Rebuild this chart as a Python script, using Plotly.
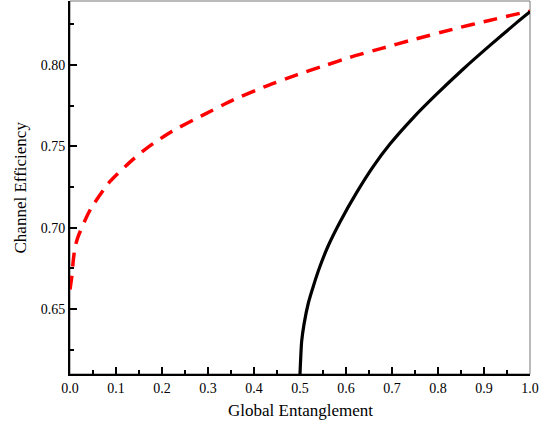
import plotly.graph_objects as go

# Black solid curve
ent_black = [0.500, 0.5036, 0.5087, 0.518, 0.529, 0.5435, 0.5616, 0.587, 0.623, 0.659, 0.696, 0.746, 0.797, 0.855, 0.913, 0.971, 1.000]
eff_black = [0.610, 0.6300, 0.6405, 0.6535, 0.6640, 0.6762, 0.6890, 0.7035, 0.7215, 0.7375, 0.7515, 0.7675, 0.7820, 0.7975, 0.8120, 0.8260, 0.8327]

# Red dashed curve
ent_red = [0.000, 0.004, 0.0072, 0.011, 0.018, 0.036, 0.047, 0.087, 0.1377, 0.170, 0.221, 0.290, 0.355, 0.424, 0.493,
           0.558, 0.6087, 0.6775, 0.743, 0.840, 0.909, 0.978, 1.000]
eff_red = [0.6620, 0.6700, 0.6800, 0.6880, 0.6947, 0.7065, 0.7125, 0.7284, 0.7421, 0.7495, 0.7591, 0.7693, 0.7785, 0.7867, 0.7939,
           0.8000, 0.8047, 0.8102, 0.8153, 0.8225, 0.8272, 0.8317, 0.8330]

x_ticks = [0.0, 0.1, 0.2, 0.3, 0.4, 0.5, 0.6, 0.7, 0.8, 0.9, 1.0]
x_tick_labels = ["0.0", "0.1", "0.2", "0.3", "0.4", "0.5", "0.6", "0.7", "0.8", "0.9", "1.0"]
y_ticks = [0.65, 0.70, 0.75, 0.80]
y_tick_labels = ["0.65", "0.70", "0.75", "0.80"]

FONT = "Liberation Serif"

fig = go.Figure()
fig.add_trace(go.Scatter(x=ent_red, y=eff_red, mode="lines", line_shape="spline",
                         line=dict(color="#ff0000", width=3.5, dash="14px,9px", smoothing=0.6),
                         showlegend=False))
fig.add_trace(go.Scatter(x=ent_black, y=eff_black, mode="lines", line_shape="spline",
                         line=dict(color="#000000", width=3.2, smoothing=0.6),
                         showlegend=False))

fig.update_layout(
    width=551, height=430,
    margin=dict(l=70, r=21, t=1, b=56),
    paper_bgcolor="white", plot_bgcolor="white",
    font=dict(family=FONT, size=14, color="black"),
    shapes=[dict(type="rect", xref="paper", yref="paper", x0=0, x1=1, y0=0, y1=1,
                 line=dict(color="#777777", width=1), layer="below")],
    annotations=[
        dict(text="Global Entanglement", xref="paper", yref="paper", x=0.5, y=0,
             xanchor="center", yanchor="middle", yshift=-36, showarrow=False,
             font=dict(family=FONT, size=17)),
        dict(text="Channel Efficiency", xref="paper", yref="paper", x=0, y=0.5,
             xanchor="center", yanchor="middle", xshift=-50, showarrow=False, textangle=-90,
             font=dict(family=FONT, size=17)),
    ],
)
fig.update_xaxes(range=[0, 1.0], tickvals=x_ticks, ticktext=x_tick_labels,
                 showgrid=False, zeroline=False, showline=True, linecolor="black", linewidth=2,
                 ticks="inside", ticklen=7, tickwidth=1.5, tickcolor="black",
                 minor=dict(dtick=0.05, tick0=0, ticks="inside", ticklen=4, tickwidth=1.5, tickcolor="black", showgrid=False),
                 tickfont=dict(family=FONT, size=14))
fig.update_yaxes(range=[0.61, 0.8393], tickvals=y_ticks, ticktext=y_tick_labels,
                 showgrid=False, zeroline=False, showline=True, linecolor="black", linewidth=2,
                 ticks="inside", ticklen=7, tickwidth=1.5, tickcolor="black",
                 minor=dict(dtick=0.025, tick0=0.6, ticks="inside", ticklen=4, tickwidth=1.5, tickcolor="black", showgrid=False),
                 tickfont=dict(family=FONT, size=14))

fig.write_html("out.html", config={"displayModeBar": False},
               post_script="document.body.style.margin='0';document.body.style.padding='0';")
